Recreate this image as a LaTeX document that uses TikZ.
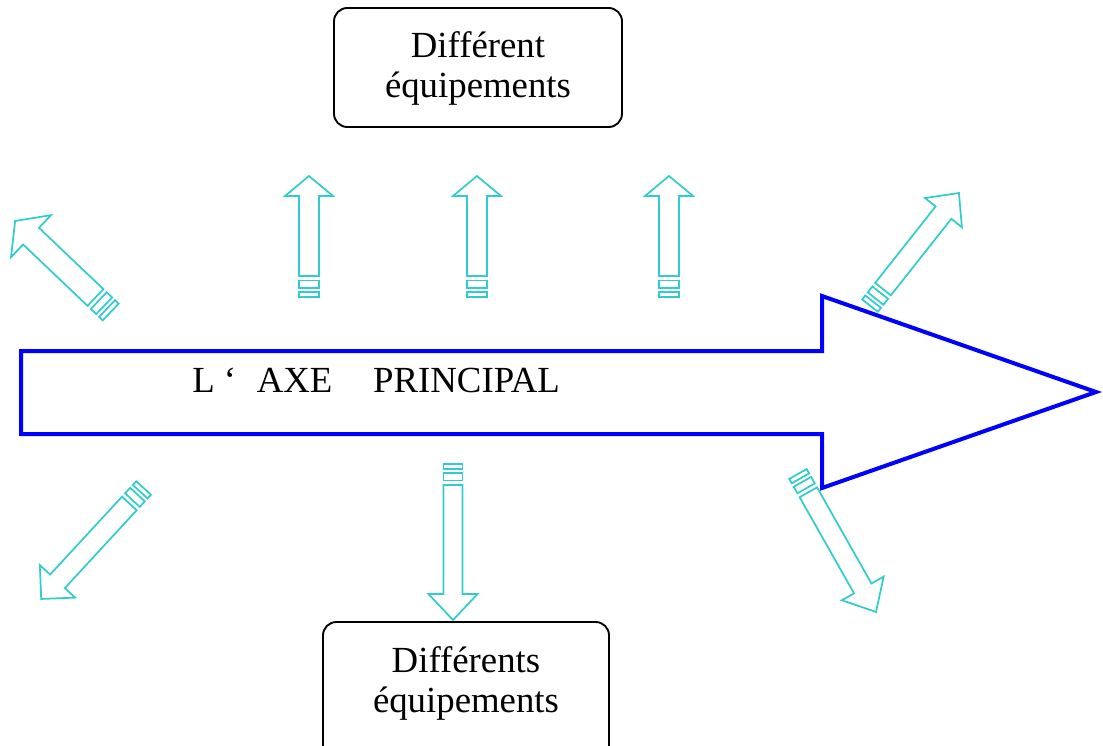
\documentclass[tikz,border=0pt]{standalone}
\usepackage{fontspec}
\setmainfont{Liberation Serif}
\definecolor{arrcyan}{HTML}{33CCCC}
\definecolor{axeblue}{HTML}{0000FF}
\newcommand{\stripearrow}[7]{%
  \begin{scope}[shift={(#1,#2)},rotate=#3,cyanline]
    \draw (0,-#7) rectangle (5,#7);
    \draw (9,-#7) rectangle (16.5,#7);
    \draw (21,-#7) -- ({#4-#5},-#7) -- ({#4-#5},-#6) -- (#4,0) -- ({#4-#5},#6) -- ({#4-#5},#7) -- (21,#7) -- cycle;
  \end{scope}}
\tikzset{
  cyanline/.style={draw=arrcyan, line width=1.3pt, line join=miter},
  eqbox/.style={draw=black, line width=1.4pt, rounded corners=10pt, inner sep=0pt,
    font=\fontsize{27.6}{30}\selectfont},
  bigarrow/.style={draw=axeblue, line width=3pt, line join=miter, miter limit=20},
  axelabel/.style={font=\fontsize{27.6}{30}\selectfont, inner sep=0pt}
}
\begin{document}
\begin{tikzpicture}[x=0.75pt,y=-0.75pt]
\useasboundingbox (0,0) rectangle (1103,746);
\clip (0,0) rectangle (1103,746);
% small striped arrows
\stripearrow{309}{297}{90}{121}{20}{24}{10}
\stripearrow{477}{297}{90}{121}{20}{24}{10}
\stripearrow{669}{297}{90}{121}{20}{24}{10}
\stripearrow{110.7}{312}{136.4}{132}{22}{29}{11.5}
\stripearrow{870}{305.6}{51.7}{143.5}{25}{23.5}{10}
\stripearrow{798}{474}{-60.5}{158.5}{27}{24}{10}
\stripearrow{143.6}{488}{-132.7}{151}{24}{24}{10}
\stripearrow{453}{464}{-90}{156}{26}{24.5}{9.5}
% main arrow
\draw[bigarrow] (21,351) -- (822,351) -- (822,296) -- (1096,392) -- (822,488) -- (822,434) -- (21,434) -- cycle;
\node[axelabel, anchor=base west] (axe) at (192,392) {L ‘\hspace{15.5pt}AXE\hspace{30.5pt}PRINCIPAL};
% boxes
\node[eqbox, minimum width=216pt, minimum height=89.25pt] (top) at (478,67.5)
  {\raisebox{0pt}[0pt][15.75pt]{\begin{tabular}[t]{@{}c@{}}Différent\\équipements\end{tabular}}};
\node[eqbox, minimum width=214.5pt, minimum height=118.5pt] (bottom) at (466,701)
  {\raisebox{0pt}[0pt][43.5pt]{\begin{tabular}[t]{@{}c@{}}Différents\\équipements\end{tabular}}};
\end{tikzpicture}
\end{document}
